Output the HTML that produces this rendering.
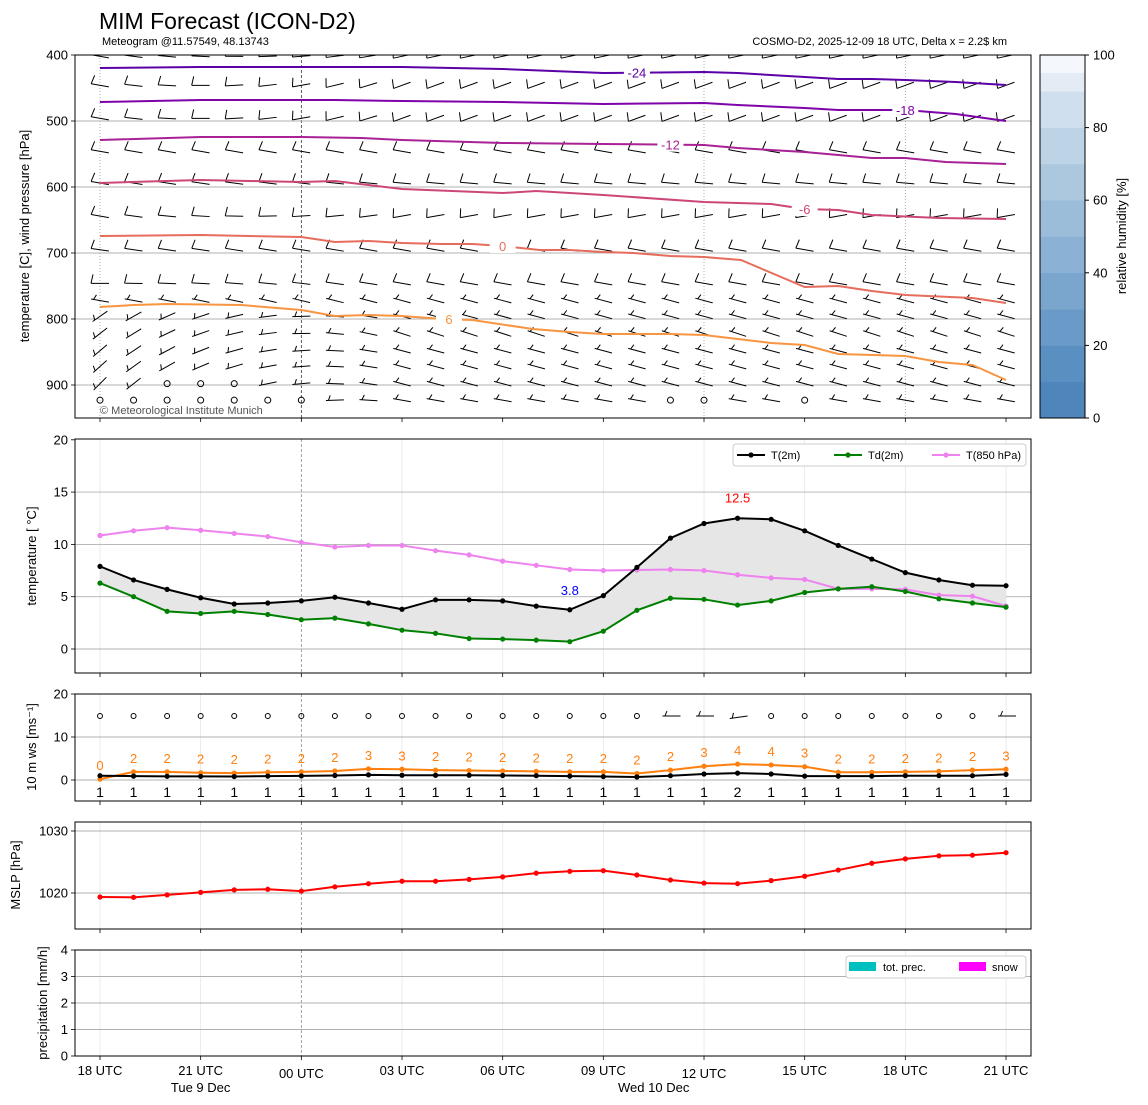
<!DOCTYPE html>
<html><head><meta charset="utf-8"><style>
html,body{margin:0;padding:0;background:#fff;}
svg{display:block;font-family:"Liberation Sans","DejaVu Sans",sans-serif;}
</style></head><body>
<svg id="c" width="1148" height="1105" viewBox="0 0 1148 1105" xmlns="http://www.w3.org/2000/svg">
<text x="99" y="29" font-size="23">MIM Forecast (ICON-D2)</text>
<text x="102" y="45" font-size="11">Meteogram @11.57549, 48.13743</text>
<text x="1007" y="45" font-size="11" text-anchor="end">COSMO-D2, 2025-12-09 18 UTC, Delta x = 2.2$ km</text>
</svg>
<script>
// ---------- data ----------
const hours = [0,1,2,3,4,5,6,7,8,9,10,11,12,13,14,15,16,17,18,19,20,21,22,23,24,25,26,27];
const tickHours = [0,3,6,9,12,15,18,21,24,27];
const tickLabels = ["18 UTC","21 UTC","00 UTC","03 UTC","06 UTC","09 UTC","12 UTC","15 UTC","18 UTC","21 UTC"];
const t2m = [7.9,6.6,5.7,4.9,4.3,4.4,4.6,4.95,4.4,3.8,4.7,4.7,4.6,4.1,3.75,5.1,7.8,10.6,12.0,12.5,12.4,11.3,9.9,8.6,7.3,6.6,6.1,6.05];
const td2m = [6.3,5.0,3.6,3.4,3.6,3.3,2.8,2.95,2.4,1.8,1.5,1.0,0.95,0.85,0.7,1.7,3.7,4.85,4.75,4.2,4.6,5.4,5.75,5.95,5.5,4.8,4.4,4.0];
const t850 = [10.85,11.3,11.6,11.35,11.05,10.75,10.2,9.75,9.9,9.9,9.4,9.0,8.4,8.0,7.6,7.5,7.55,7.6,7.5,7.1,6.8,6.65,5.75,5.75,5.7,5.15,5.05,4.1];
const wspd = [1.0,0.9,0.85,0.85,0.8,0.9,0.95,1.05,1.2,1.1,1.1,1.1,1.05,1.0,0.9,0.8,0.7,1.0,1.4,1.6,1.4,0.9,0.9,0.9,1.0,1.0,1.0,1.3];
const wgust = [0.2,1.9,1.9,1.7,1.6,1.8,1.9,2.1,2.6,2.5,2.3,2.2,2.1,2.0,1.9,1.9,1.5,2.3,3.2,3.7,3.5,3.1,1.8,1.8,1.9,2.0,2.3,2.5];
const wdir10 = [null,null,null,null,null,null,null,null,null,null,null,null,null,null,null,null,null,0,0,8,null,null,null,null,null,null,null,0];
const mslp = [1019.35,1019.3,1019.7,1020.1,1020.5,1020.6,1020.3,1021.0,1021.5,1021.9,1021.9,1022.2,1022.6,1023.2,1023.5,1023.6,1022.9,1022.1,1021.6,1021.5,1022.0,1022.7,1023.7,1024.8,1025.5,1026.0,1026.1,1026.5];
const precip = [0,0,0,0,0,0,0,0,0,0,0,0,0,0,0,0,0,0,0,0,0,0,0,0,0,0,0,0];
const isoLevels = [-24,-18,-12,-6,0,6];
const isoColors = ["#5c01a6","#7e03a8","#a82296","#cc4778","#e66c5c","#f89540"];
const isoHours = [
 [0,3,6,9,12,15,18,19,21,22,23,24,25.5,27],
 [0,3,6,7,9,12,15,18,19,21,22,24,25.5,27],
 [0,3,6,7.8,9,12,15,18,19,21,22,23,24,25.2,27],
 [0,3,6,7,9,12,13,15,18,20,21,22,23,25,27],
 [0,3,6,7,8,9,10.2,11.1,12,13.1,14,15,15.9,17,18,19.1,21,22,23,24,26,27],
 [0,1,2,4.2,6,7,8,9,10.2,11.1,12.9,14,15,17,18,20,21,22,24,25,26,27]];
const isoPress = [
 [419.7,418.2,418.2,418.2,421.2,427.3,425.8,427.3,433.3,436.4,436.4,437.9,440.9,445.5],
 [471.2,468.2,468.2,468.2,469.7,471.2,474.2,472.7,475.8,480.3,483.3,483.3,489.4,500],
 [528.8,524.2,524.2,525.8,528.8,533.3,534.8,536.4,540.9,547,551.5,556,556,562.1,565.2],
 [593.9,589.4,592.4,590.9,603,609.1,606.1,612.1,622.7,625.8,633.3,634.8,642.4,647,648.5],
 [674.2,672.7,675.8,683.3,681.8,684.8,686.4,686.4,689.4,695.4,695.4,698.5,700,704.5,706.1,710.6,751.5,750,757.6,763.6,768.2,775.7],
 [781.8,778.8,777.3,778.8,786.4,795.5,793.9,795.5,800,801.5,815.2,819.7,822.7,822.7,824.2,836.4,839.4,853,856,865.2,869.7,892.4]];
const isoLabelHour = [16, 24, 17, 21, 12, 10.4];
const barbLevels = [402,446,496,546,594,644,695,746,772,796,822,848,872,898,923];
const barbAngStart = [-10,-10,-10,-10,-10,-10,-8,0,-10,35,38,40,42,45,45];
const barbAngEnd = [12,20,20,-10,-5,10,-10,-10,-15,-15,-18,-15,-15,-15,-10];
const rhBands = ["#4e86bb","#5a90c1","#6a9bc8","#7aa6ce","#8bb2d4","#9bbdd9","#acc8df","#bdd4e7","#cfdfee","#e3ecf5"];
const rhTicks = [0,20,40,60,80,100];
const pTicks = [400,500,600,700,800,900];
const tTicks = [0,5,10,15,20];
const wTicks = [0,10,20];
const mTicks = [1020,1030];
const rTicks = [0,1,2,3,4];

// ---------- helpers ----------
const NS="http://www.w3.org/2000/svg";
const svg=document.getElementById('c');
function mk(tag,attrs,parent){const e=document.createElementNS(NS,tag);for(const k in attrs)e.setAttribute(k,attrs[k]);(parent||svg).appendChild(e);return e;}
const X0=75,X1=1031;
const X=h=>100+h*33.556;
const Yp=p=>55+(p-400)*0.66;
const Yt=t=>649-t*10.46;
const Yw=v=>780-v*4.3;
const Ym=p=>893-(p-1020)*6.2;
const Yr=r=>1056-r*26.5;
const panels=[[55,418],[439,673],[694,801],[822,929],[950,1056]];
const defs=mk('defs',{});
const cp=mk('clipPath',{id:'clip0'},defs);mk('rect',{x:X0,y:55,width:X1-X0,height:363},cp);

// grid
panels.forEach((pn,i)=>{
  const g=mk('g',{});
  
  
  tickHours.forEach((h,j)=>{
    if(i===0){ if(h===0||h===18||h===24) { const l=mk('line',{x1:X(h),x2:X(h),y1:pn[0],y2:pn[1],stroke:'#999','stroke-width':0.8,'stroke-dasharray':'1,2'},g);   } }
    else if(h!==6){ const l=mk('line',{x1:X(h),x2:X(h),y1:pn[0],y2:pn[1],stroke:'#e6e6e6','stroke-width':0.8},g);   }
    const tk=mk('line',{x1:X(h),x2:X(h),y1:pn[1],y2:pn[1]+4,stroke:'#000','stroke-width':0.8},g);
    
    
  });
  const d=mk('line',{x1:X(6),x2:X(6),y1:pn[0],y2:pn[1],stroke:i===0?'#333':'#888','stroke-width':0.8,'stroke-dasharray':'3,2'},g);
  
  
});
function hgrid(vals,f,pi,name,fmt){
  const pn=panels[pi];
  vals.forEach(v=>{
    const y=f(v);
    if(y>pn[0]+1&&y<pn[1]-1){const l=mk('line',{x1:X0,x2:X1,y1:y,y2:y,stroke:'#b0b0b0','stroke-width':0.9});}
    const tk=mk('line',{x1:X0-4,x2:X0,y1:y,y2:y,stroke:'#000','stroke-width':0.8});
    
    
    const t=mk('text',{x:X0-7,y:y+4.5,'font-size':13,'text-anchor':'end'});t.textContent=fmt?fmt(v):v;
    
    
  });
}
hgrid(pTicks,Yp,0,'pressure');
hgrid(tTicks,Yt,1,'temperature');
hgrid(wTicks,Yw,2,'wind');
hgrid(mTicks,Ym,3,'mslp');
hgrid(rTicks,Yr,4,'precip');

// wind barbs top panel
const bg=mk('g',{'clip-path':'url(#clip0)'});


const calm={'13':[2,3,4],'14':[0,1,2,3,4,5,6,17,18,21]};
function barb(x,y,a,parent,full){
  const r=a*Math.PI/180, L=18;
  const dx=-Math.cos(r), dy=Math.sin(r);
  const ex=x+dx*L, ey=y+dy*L;
  const bx=-dy, by=dx;
  const bl=full?9:5, inset=full?0:2.5;
  const sx=ex-dx*inset, sy=ey-dy*inset;
  const p=mk('path',{d:`M${x},${y}L${ex},${ey}M${sx},${sy}L${sx+bx*bl-dx*2},${sy+by*bl-dy*2}`,stroke:'#000','stroke-width':1,fill:'none'},parent);
  
  
}
barbLevels.forEach((p,r)=>{
  const y=Yp(p);
  hours.forEach(h=>{
    const cl=calm[String(r)];
    if(cl&&cl.includes(h)){const c=mk('circle',{cx:X(h),cy:y,r:3,fill:'none',stroke:'#000','stroke-width':1},bg);return;}
    const f=Math.min(1,h/9);
    const a=barbAngStart[r]+(barbAngEnd[r]-barbAngStart[r])*f;
    const rr=a*Math.PI/180;
    barb(X(h)+9*Math.cos(rr),y-9*Math.sin(rr),a,bg,r<8);
  });
});

// isotherms
isoLevels.forEach((lv,i)=>{
  const pts=isoHours[i].map((h,j)=>X(h)+','+Yp(isoPress[i][j])).join(' ');
  const pl=mk('polyline',{points:pts,fill:'none',stroke:isoColors[i],'stroke-width':2});
  
  
  const lh=isoLabelHour[i];
  let k=0;while(k<isoHours[i].length-2&&isoHours[i][k+1]<lh)k++;
  const h0=isoHours[i][k],h1=isoHours[i][k+1];
  const pp=isoPress[i][k]+(isoPress[i][k+1]-isoPress[i][k])*(lh-h0)/(h1-h0);
  mk('rect',{x:X(lh)-13,y:Yp(pp)-8,width:26,height:15,fill:'#fff'});
  const t=mk('text',{x:X(lh),y:Yp(pp)+5,'font-size':13,'text-anchor':'middle',fill:isoColors[i]});t.textContent=lv;
  
  
});
const cpy=mk('text',{x:100,y:414,'font-size':11,fill:'#555'});cpy.textContent='© Meteorological Institute Munich';



// colorbar
const cb=mk('g',{});


rhBands.forEach((c,i)=>{const y0=418-(i+1)*36.3;const r=mk('rect',{x:1040,y:y0,width:45,height:36.6,fill:c},cb);});
mk('rect',{x:1040,y:55,width:45,height:18,fill:'#f4f8fc'},cb);
mk('rect',{x:1040,y:55,width:45,height:363,fill:'none',stroke:'#000','stroke-width':1},cb);
rhTicks.forEach(v=>{const y=418-v*3.63;mk('line',{x1:1085,x2:1089,y1:y,y2:y,stroke:'#000'},cb);const t=mk('text',{x:1093,y:y+4.5,'font-size':13},cb);t.textContent=v;});

// temperature panel
const fillPts=hours.map(h=>X(h)+','+Yt(t2m[h])).concat(hours.slice().reverse().map(h=>X(h)+','+Yt(td2m[h]))).join(' ');
const fa=mk('polygon',{points:fillPts,fill:'#e6e6e6',stroke:'none'});


function series(arr,fy,color,name,r){
  const g=mk('g',{});
  
  
  mk('polyline',{points:hours.map(h=>X(h)+','+fy(arr[h])).join(' '),fill:'none',stroke:color,'stroke-width':2},g);
  hours.forEach(h=>{const c=mk('circle',{cx:X(h),cy:fy(arr[h]),r:r||2.6,fill:color},g);});
}
series(t850,Yt,'#ee82ee','t850-series');
series(td2m,Yt,'#008000','td2m-series');
series(t2m,Yt,'#000','t2m-series');
const iMax=t2m.indexOf(Math.max(...t2m));
const tmax=mk('text',{x:X(iMax),y:Yt(t2m[iMax])-16,'font-size':13,fill:'red','text-anchor':'middle'});tmax.textContent=t2m[iMax].toFixed(1);


let iMin=0;for(let h=8;h<20;h++)if(t2m[h]<t2m[iMin]||iMin<8)iMin=h;
const tmin=mk('text',{x:X(iMin),y:Yt(t2m[iMin])-15,'font-size':13,fill:'blue','text-anchor':'middle'});tmin.textContent=t2m[iMin].toFixed(1);


// legend
const lg=mk('g',{});


mk('rect',{x:733,y:444,width:293,height:22,rx:3,fill:'#fff',stroke:'#ccc'},lg);
[['T(2m)','#000',737],['Td(2m)','#008000',834],['T(850 hPa)','#ee82ee',932]].forEach(e=>{
  mk('line',{x1:e[2],x2:e[2]+28,y1:455,y2:455,stroke:e[1],'stroke-width':2},lg);
  mk('circle',{cx:e[2]+14,cy:455,r:2.6,fill:e[1]},lg);
  const t=mk('text',{x:e[2]+34,y:459,'font-size':11},lg);t.textContent=e[0];
  
  
});

// wind panel
series(wgust,Yw,'#ff7f0e','gust-series');
series(wspd,Yw,'#000','windspeed-series');
hours.forEach(h=>{
  const tg=mk('text',{x:X(h),y:Yw(wgust[h])-9,'font-size':13,fill:'#ff7f0e','text-anchor':'middle'});tg.textContent=Math.round(wgust[h]);
  
  
  const ts=mk('text',{x:X(h),y:797,'font-size':14,fill:'#000','text-anchor':'middle'});ts.textContent=Math.max(1,Math.round(wspd[h]));
  
  
  if(wdir10[h]===null){const c=mk('circle',{cx:X(h),cy:716,r:2.5,fill:'none',stroke:'#000','stroke-width':1});}
  else{const g=mk('g',{});barb(X(h)+10,716,wdir10[h],g,false);}
});

// mslp
series(mslp,Ym,'#ff0000','mslp-series');

// precip
const pg=mk('g',{});


hours.forEach(h=>{if(precip[h]>0){const b=mk('rect',{x:X(h)-12,y:Yr(precip[h]),width:24,height:Yr(0)-Yr(precip[h]),fill:'#00bfbf'},pg);}});
const pl=mk('g',{});


mk('rect',{x:846,y:956,width:180,height:22,rx:3,fill:'#fff',stroke:'#ccc'},pl);
mk('rect',{x:849,y:962,width:27,height:9,fill:'#00bfbf'},pl);
let t1=mk('text',{x:883,y:971,'font-size':11},pl);t1.textContent='tot. prec.';
mk('rect',{x:959,y:962,width:27,height:9,fill:'#ff00ff'},pl);
let t2=mk('text',{x:992,y:971,'font-size':11},pl);t2.textContent='snow';

// frames
panels.forEach((pn,i)=>{const r=mk('rect',{x:X0,y:pn[0],width:X1-X0,height:pn[1]-pn[0],fill:'none',stroke:'#000','stroke-width':1});});

// x tick labels
tickHours.forEach((h,j)=>{
  const dy=(h===6||h===18)?3:0;
  const t=mk('text',{x:X(h),y:1075+dy,'font-size':13,'text-anchor':'middle'});t.textContent=tickLabels[j];
  
  
});
[['Tue 9 Dec',3],['Wed 10 Dec',16.5]].forEach(d=>{const t=mk('text',{x:X(d[1]),y:1092,'font-size':13,'text-anchor':'middle'});t.textContent=d[0];});

// axis titles
[['temperature [C], wind pressure [hPa]',29,236],['temperature [ °C]',36,556],['10 m ws [ms⁻¹]',36,747],['MSLP [hPa]',20,875],['precipitation [mm/h]',47,1003]].forEach(a=>{
  const t=mk('text',{x:a[1],y:a[2],'font-size':13,'text-anchor':'middle',transform:`rotate(-90 ${a[1]} ${a[2]})`});t.textContent=a[0];
  
  
});
const ct=mk('text',{x:1126,y:236,'font-size':13,'text-anchor':'middle',transform:'rotate(-90 1126 236)'});ct.textContent='relative humidity [%]';


</script>
</body></html>
